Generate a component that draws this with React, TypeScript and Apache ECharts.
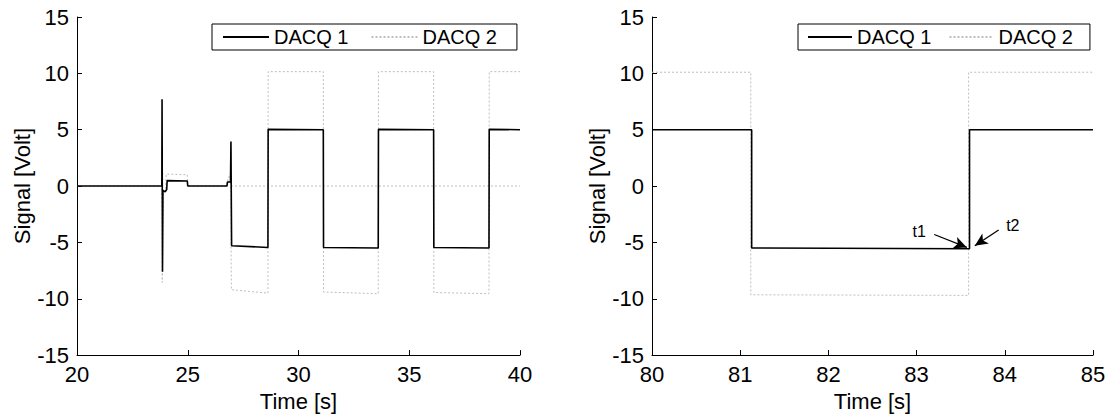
import React, { useEffect, useRef } from "react";
import * as echarts from "echarts";

// Left panel (20–40 s)
const leftD1X = [20, 23.83, 23.84, 23.86, 23.88, 23.98, 24.05, 24.07, 24.98, 25.0, 26.77, 26.79, 26.93, 26.95, 26.98, 28.62, 28.63, 31.12, 31.13, 33.6, 33.61, 36.1, 36.11, 38.6, 38.61, 40];
const leftD1Y = [0, 0, 7.7, -7.6, -0.4, -0.5, -0.3, 0.48, 0.45, 0, 0, 0.35, 0.38, 3.95, -5.3, -5.45, 5.03, 5.0, -5.45, -5.5, 5.03, 5.0, -5.45, -5.5, 5.03, 5.0];
const leftD2X = [20, 23.83, 23.85, 23.9, 24.0, 24.03, 24.98, 25.0, 26.8, 26.82, 26.93, 26.97, 28.62, 28.63, 31.12, 31.13, 33.6, 33.61, 36.1, 36.11, 38.6, 38.61, 40];
const leftD2Y = [0, 0, -8.55, -0.3, -0.2, 1.06, 1.0, 0, 0, 0.8, 0.8, -9.2, -9.5, 10.15, 10.15, -9.4, -9.55, 10.15, 10.15, -9.45, -9.55, 10.15, 10.15];
const leftD2ZeroX = [26.95, 40];
const leftD2ZeroY = [0, 0];

// Right panel (80–85 s)
const rightD1X = [80, 81.13, 81.13, 83.6, 83.6, 85];
const rightD1Y = [5.0, 5.0, -5.5, -5.56, 5.0, 5.0];
const rightD2X = [80, 81.12, 81.12, 83.59, 83.59, 85];
const rightD2Y = [10.1, 10.1, -9.65, -9.7, 10.1, 10.1];

// Annotations (data coords): [startX, startY, tipX, tipY]
const annT1 = [83.2, -4.3, 83.57, -5.45];
const annT2 = [83.93, -3.9, 83.66, -5.3];

const xTicksLeft = { min: 20, max: 40, interval: 5 };
const xTicksRight = { min: 80, max: 85, interval: 1 };
const yTicks = { min: -15, max: 15, interval: 5 };

const zip = (xs: number[], ys: number[]) => xs.map((x, i) => [x, ys[i]]);

const FONT = "Liberation Sans, Arial, sans-serif";

export default function App() {
  const ref = useRef<HTMLDivElement>(null);
  useEffect(() => {
    if (!ref.current) return;
    const chart = echarts.init(ref.current, undefined, { renderer: "svg" });
    const axisCommon = {
      axisLine: { show: true, onZero: false, lineStyle: { color: "#000", width: 1 } },
      axisTick: { show: true, inside: true, length: 5, lineStyle: { color: "#000" } },
      axisLabel: { color: "#000", fontSize: 22, fontFamily: FONT, margin: 8 },
      splitLine: { show: false },
      nameTextStyle: { color: "#000", fontSize: 22, fontFamily: FONT },
    };
    const xAxis = (i: number, t: any) => ({
      type: "value",
      gridIndex: i,
      ...t,
      ...axisCommon,
      name: "Time [s]",
      nameLocation: "middle",
      nameGap: 32,
    });
    const yAxis = (i: number) => ({
      type: "value",
      gridIndex: i,
      ...yTicks,
      ...axisCommon,
      name: "Signal [Volt]",
      nameLocation: "middle",
      nameGap: 44,
    });
    const black = { color: "#000", width: 1.6 };
    const grayC = "#bdbdbd";
    const gray = { color: grayC, width: 1, type: [2, 2] as any };
    const legendCommon = {
      data: ["DACQ 1", "DACQ 2"],
      orient: "horizontal",
      top: 24,
      height: 27,
      itemWidth: 46,
      itemHeight: 14,
      itemGap: 22,
      borderColor: "#000",
      borderWidth: 1,
      borderRadius: 0,
      itemStyle: { opacity: 0 },
      textStyle: { color: "#000", fontSize: 20, fontFamily: FONT },
      selectedMode: false,
    };
    const arrow = (a: number[], label: string) => [
      { coord: [a[0], a[1]], symbol: "none", label: { show: true, formatter: label, position: "start", distance: 9, color: "#000", fontSize: 16, fontFamily: FONT } },
      { coord: [a[2], a[3]], symbol: "arrow", symbolSize: [9, 13] },
    ];
    chart.setOption({
      animation: false,
      backgroundColor: "#fff",
      grid: [
        { left: 77, right: 591, top: 17, bottom: 60 },
        { left: 652, right: 18, top: 17, bottom: 60 },
      ],
      xAxis: [xAxis(0, xTicksLeft), xAxis(1, xTicksRight)],
      yAxis: [yAxis(0), yAxis(1)],
      legend: [
        { ...legendCommon, left: 212, padding: [3, 20, 3, 10] },
        { ...legendCommon, left: 798, padding: [3, 17, 3, 9], itemWidth: 44, itemGap: 17 },
      ],
      series: [
        { name: "DACQ 2", type: "line", xAxisIndex: 0, yAxisIndex: 0, data: zip(leftD2X, leftD2Y), symbol: "none", lineStyle: gray, itemStyle: { color: grayC }, z: 1 },
        { name: "DACQ 2", type: "line", xAxisIndex: 0, yAxisIndex: 0, data: zip(leftD2ZeroX, leftD2ZeroY), symbol: "none", lineStyle: gray, itemStyle: { color: grayC }, z: 1 },
        { name: "DACQ 1", type: "line", xAxisIndex: 0, yAxisIndex: 0, data: zip(leftD1X, leftD1Y), symbol: "none", lineStyle: black, itemStyle: { color: "#000" }, z: 2 },
        { name: "DACQ 2", type: "line", xAxisIndex: 1, yAxisIndex: 1, data: zip(rightD2X, rightD2Y), symbol: "none", lineStyle: gray, itemStyle: { color: grayC }, z: 1 },
        {
          name: "DACQ 1", type: "line", xAxisIndex: 1, yAxisIndex: 1, data: zip(rightD1X, rightD1Y), symbol: "none", lineStyle: black, itemStyle: { color: "#000" }, z: 2,
          markLine: {
            silent: true,
            animation: false,
            lineStyle: { color: "#000", width: 1.3, type: "solid" },
            data: [arrow(annT1, "t1"), arrow(annT2, "t2")],
          },
        },
      ],
    });
    return () => chart.dispose();
  }, []);
  return <div ref={ref} style={{ position: "fixed", left: 0, top: 0, width: 1111, height: 417 }} />;
}
